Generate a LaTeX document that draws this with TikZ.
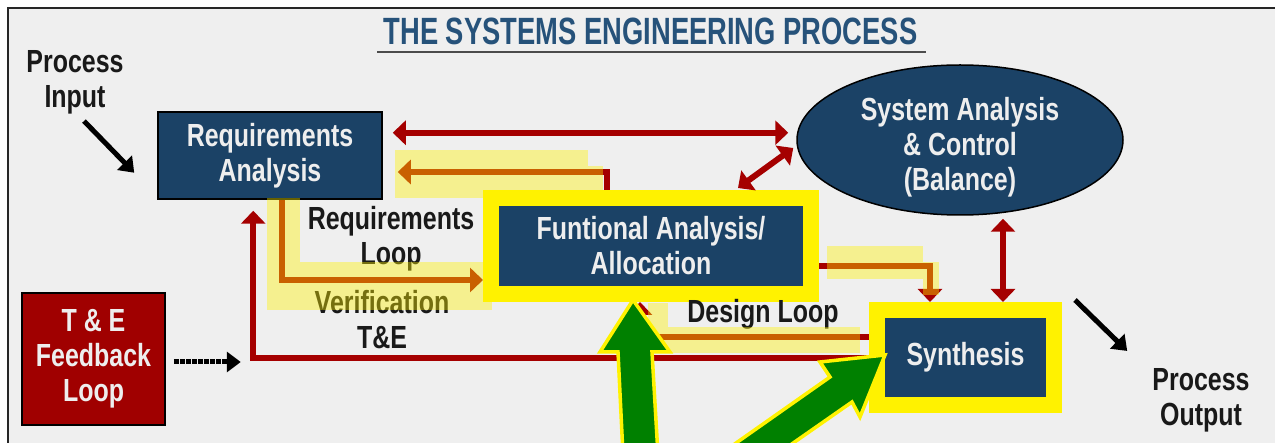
\documentclass[tikz,border=0pt]{standalone}
\usepackage{fontspec}
\usetikzlibrary{arrows.meta,calc,shapes.geometric}
\newfontfamily\condfont{Liberation Sans}[FakeStretch=0.78]
\newfontfamily\titlefont{Liberation Sans}[FakeStretch=0.72]
\definecolor{sebg}{HTML}{EFEFEF}
\definecolor{seblue}{RGB}{27,66,102}
\definecolor{setitle}{RGB}{38,82,122}
\definecolor{sered}{RGB}{165,0,0}
\definecolor{tered}{RGB}{160,0,0}
\definecolor{segreen}{RGB}{0,128,0}
\definecolor{boxtext}{RGB}{238,238,238}

\begin{document}
\begin{tikzpicture}[x=1pt, y=-1pt,
  txt/.style={font=\condfont\bfseries\fontsize{32}{35}\selectfont, align=center, inner sep=0pt, text=black!90},
  bluebox/.style={txt, rectangle, fill=seblue, draw=black, line width=1.5pt, text=boxtext},
  hlbox/.style={txt, rectangle, fill=seblue, draw=yellow, line width=16pt, text=boxtext},
  redline/.style={draw=sered, line width=6pt, -{Triangle[length=13pt,width=24pt]}},
  redboth/.style={redline, {Triangle[length=13pt,width=24pt]}-{Triangle[length=13pt,width=24pt]}},
  blkarrow/.style={draw=black, line width=5pt, -{Triangle[length=14pt,width=20pt]}},
  marker/.style={fill=yellow, opacity=0.4},
  bigarrow/.style={fill=segreen, draw=yellow, line width=3.5pt, line join=miter}]
  \useasboundingbox (0,0) rectangle (1275,443);
  \clip (0,0) rectangle (1275,443);
  \fill[white] (0,0) rectangle (1275,443);
  \fill[sebg] (8,8) rectangle (1290,460);
  \draw[black!85, line width=2pt] (8,460) -- (8,8) -- (1290,8);

  \node[anchor=base, inner sep=0pt, text=setitle, font=\titlefont\bfseries\fontsize{38}{40}\selectfont] (title) at (650.5,45) {THE SYSTEMS ENGINEERING PROCESS};
  \draw[black!70, line width=2.5pt] ($(title.base west)+(-6,7)$) -- ($(title.base east)+(8,7)$);

  \node[txt] (pin) at (75,82) {Process\\Input};
  \node[bluebox, minimum width=224pt, minimum height=87pt] (ra) at (270,155.5) {Requirements\\Analysis};
  \node[hlbox, minimum width=320pt, minimum height=96pt] (fa) at (651,246) {Funtional Analysis/\\Allocation};
  \node[hlbox, minimum width=177pt, minimum height=95pt] (syn) at (965.5,357.5) {Synthesis};
  \node[ellipse, fill=seblue, draw=black, line width=1.5pt, minimum width=326pt, minimum height=150pt, inner sep=0pt] (sac) at (960,140) {};
  \node[txt, text=boxtext] (sactxt) at (960,147) {System Analysis\\\& Control\\(Balance)};
  \node[bluebox, fill=tered, minimum width=143pt, minimum height=132pt] (te) at (93.5,359) {T \& E\\Feedback\\Loop};
  \node[txt] (reqloop) at (391,239) {Requirements\\Loop};
  \node[txt] (verif) at (382,320) {Verification\\T\&E};
  \node[txt, anchor=base] (design) at (763,323) {Design Loop};
  \node[txt] (pout) at (1201,400) {Process\\Output};

  \draw[blkarrow] ($(pin.south)+(9,7)$) -- ($(ra.south west)+(-23,-27)$);
  \coordinate (rtop) at ($(ra.north east)+(10,21.5)$);
  \draw[redboth] (rtop) -- ($(rtop -| sac.west)+(-8,0)$);
  \draw[redline] ($(fa.north west)+(124,0)$) |- ($(ra.east)+(15,16.5)$);
  \draw[redline] ($(ra.south west)+(125,0)$) |- ($(fa.south west)+(0,-22)$);
  \draw[redline] ($(fa.east)+(0,20)$) -| ($(syn.north west)+(61,0)$);
  \draw[redboth] ($(sac.south)+(43,3)$) -- ($(syn.north west)+(134,0)$);
  \draw[redboth] ($(fa.north west)+(255,-2)$) -- ($(sac.west)+(-3,8)$);
  \draw[redline] ($(syn.west)+(0,-20.5)$) -| ($(fa.south west)+(157,0)$);
  \draw[redline] ($(syn.west)+(0,0.5)$) -| ($(ra.south west)+(96,11)$);
  \coordinate (tein) at ($(te.east)+(75,3)$);
  \draw[blkarrow, dash pattern=on 5pt off 1pt] ($(te.east)+(8,3)$) -- (tein);
  \draw[blkarrow] ($(syn.north east)+(13,-2)$) -- ($(pout.north west)+(-25,-17)$);

  \fill[marker] (395,150) rectangle (588,198);
  \fill[marker] (588,166) rectangle (603,190);
  \fill[marker] (267,198) rectangle (300,262);
  \fill[marker] (267,262) rectangle (492,310);
  \fill[marker] (827,246) rectangle (923,279);
  \fill[marker] (923,262) rectangle (939,295);
  \fill[marker] (648,303) rectangle (668,327);
  \fill[marker] (648,327) rectangle (860,353);

  \filldraw[bigarrow] (633,300) -- (670,352) -- (652,352) -- (658,455) -- (623,455) -- (618,352) -- (600,352) -- cycle;
  \filldraw[bigarrow] (885,355) -- (860,417) -- (852,402) -- (776,455) -- (719,455) -- (830,377) -- (820,362) -- cycle;
\end{tikzpicture}
\end{document}
